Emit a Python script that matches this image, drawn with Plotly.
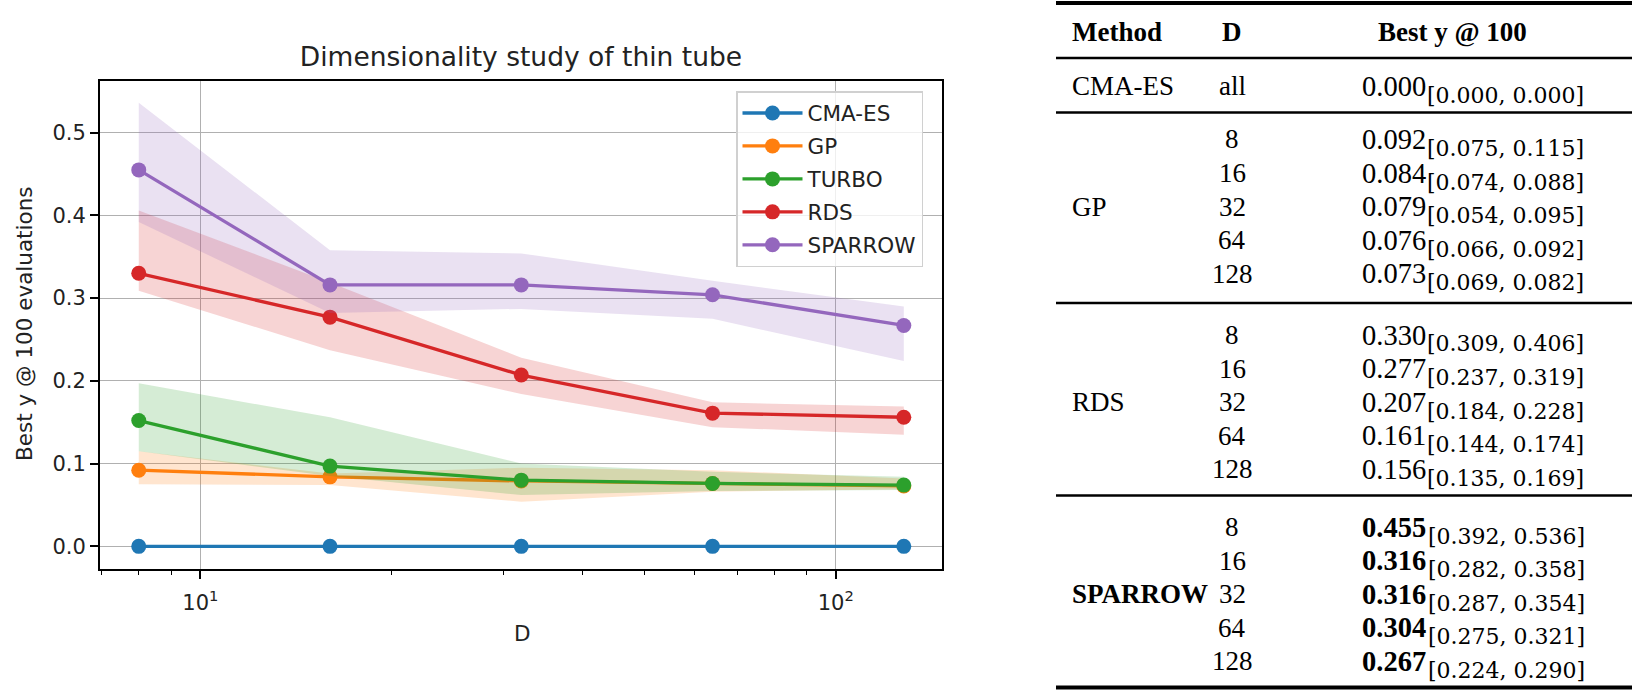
import plotly.graph_objects as go

W, H = 1632, 691

# ---------------- data ----------------
D = [8, 16, 32, 64, 128]
methods = ["CMA-ES", "GP", "TURBO", "RDS", "SPARROW"]
colors = ["#1f77b4", "#ff7f0e", "#2ca02c", "#d62728", "#9467bd"]
bands = ["rgba(31,119,180,0.2)", "rgba(255,127,14,0.2)", "rgba(44,160,44,0.2)",
         "rgba(214,39,40,0.2)", "rgba(148,103,189,0.2)"]

cma_med = [0.000, 0.000, 0.000, 0.000, 0.000]
cma_lo = [0.000, 0.000, 0.000, 0.000, 0.000]
cma_hi = [0.000, 0.000, 0.000, 0.000, 0.000]

gp_med = [0.092, 0.084, 0.079, 0.076, 0.073]
gp_lo = [0.075, 0.074, 0.054, 0.066, 0.069]
gp_hi = [0.115, 0.088, 0.095, 0.092, 0.082]

turbo_med = [0.152, 0.097, 0.080, 0.076, 0.074]
turbo_lo = [0.115, 0.085, 0.062, 0.067, 0.068]
turbo_hi = [0.197, 0.156, 0.100, 0.090, 0.084]

rds_med = [0.330, 0.277, 0.207, 0.161, 0.156]
rds_lo = [0.309, 0.237, 0.184, 0.144, 0.135]
rds_hi = [0.406, 0.319, 0.228, 0.174, 0.169]

sp_med = [0.455, 0.316, 0.316, 0.304, 0.267]
sp_lo = [0.392, 0.282, 0.287, 0.275, 0.224]
sp_hi = [0.536, 0.358, 0.354, 0.321, 0.290]

series_med = [cma_med, gp_med, turbo_med, rds_med, sp_med]
series_lo = [cma_lo, gp_lo, turbo_lo, rds_lo, sp_lo]
series_hi = [cma_hi, gp_hi, turbo_hi, rds_hi, sp_hi]

y_ticks = [0.0, 0.1, 0.2, 0.3, 0.4, 0.5]
x_major = [10, 100]
x_major_text = ["10<sup>1</sup>", "10<sup>2</sup>"]
x_minor = [7, 8, 9, 20, 30, 40, 50, 60, 70, 80, 90]

title = "Dimensionality study of thin tube"
x_label = "D"
y_label = "Best y @ 100 evaluations"

# table (methods shown in table)
table_header = ["Method", "D", "Best y @ 100"]
table_methods = ["GP", "RDS", "SPARROW"]
table_meds = [gp_med, rds_med, sp_med]
table_los = [gp_lo, rds_lo, sp_lo]
table_his = [gp_hi, rds_hi, sp_hi]
table_bold = [False, False, True]

# ---------------- figure ----------------
def px(x):
    return x / W

def py(y):
    return 1 - y / H

fig = go.Figure()
for i, m in enumerate(methods):
    fig.add_trace(go.Scatter(x=D, y=series_lo[i], mode="lines", line=dict(width=0),
                             showlegend=False, hoverinfo="skip", legendgroup=m))
    fig.add_trace(go.Scatter(x=D, y=series_hi[i], mode="lines", line=dict(width=0),
                             fill="tonexty", fillcolor=bands[i], showlegend=False,
                             hoverinfo="skip", legendgroup=m))
    fig.add_trace(go.Scatter(x=D, y=series_med[i], mode="lines+markers", name=m,
                             legendgroup=m,
                             line=dict(color=colors[i], width=3.3),
                             marker=dict(color=colors[i], size=15)))

tickfont = dict(family="DejaVu Sans", size=21, color="#222")

fig.update_layout(
    width=W, height=H,
    margin=dict(l=0, r=0, t=0, b=0),
    paper_bgcolor="white", plot_bgcolor="white",
    showlegend=True,
    legend=dict(x=px(736), y=py(91), xanchor="left", yanchor="top",
                traceorder="grouped", tracegroupgap=2, itemwidth=60,
                font=dict(family="DejaVu Sans", size=21.5, color="#222"),
                bgcolor="rgba(255,255,255,0.8)", bordercolor="#d0d0d0", borderwidth=1.5),
    title=dict(text=title, x=px(521), y=py(57), xanchor="center", yanchor="middle",
               xref="paper", yref="container",
               font=dict(family="DejaVu Sans", size=26.5, color="#222")),
    xaxis=dict(type="log", domain=[px(100), px(942.3)], range=[0.8421, 2.1678],
               tickvals=x_major, ticktext=x_major_text, ticks="outside", ticklen=8,
               tickwidth=1.5, tickcolor="black", tickfont=tickfont,
               ticklabelstandoff=6,
               showgrid=True, gridcolor="#b0b0b0", gridwidth=1.2,
               showline=True, linecolor="black", linewidth=2, mirror=True,
               zeroline=False,
               minor=dict(tickvals=x_minor, ticks="outside", ticklen=4.5, tickwidth=1.2,
                          tickcolor="black", showgrid=False)),
    yaxis=dict(domain=[py(568.5), py(80.7)], range=[-0.0268, 0.5628],
               tickvals=y_ticks, tickformat=".1f", ticks="outside", ticklen=8,
               tickwidth=1.5, tickcolor="black", tickfont=tickfont,
               showgrid=True, gridcolor="#b0b0b0", gridwidth=1.2,
               showline=True, linecolor="black", linewidth=2, mirror=True,
               zeroline=False),
)

ann = []
ann.append(dict(text=y_label, x=px(25), y=py(324), xref="paper", yref="paper",
                textangle=-90, showarrow=False, xanchor="center", yanchor="middle",
                font=dict(family="DejaVu Sans", size=21.5, color="#222")))
ann.append(dict(text=x_label, x=px(522), y=py(633), xref="paper", yref="paper",
                showarrow=False, xanchor="center", yanchor="middle",
                font=dict(family="DejaVu Sans", size=21.5, color="#222")))

# ---------------- table ----------------
TXT = "Liberation Serif"
SUBF = "DejaVu Serif"
txt_size = 27
main_size = 28.5
sub_size = 22
x_method = 1070
x_d = 1232
x_val = 1360
x_head_val = 1452
row_gap = 33.6

def text_ann(s, x, y, anchor="left", size=txt_size, family=TXT):
    ann.append(dict(text=s, x=px(x), y=py(y), xref="paper", yref="paper",
                    showarrow=False, xanchor=anchor, yanchor="middle",
                    font=dict(family=family, size=size, color="black")))

def value_ann(med, lo, hi, y, bold):
    main = f"{med:.3f}"
    if bold:
        main = f"<b>{main}</b>"
    text_ann(main, x_val, y, anchor="left", size=main_size, family=TXT)
    text_ann(f"[{lo:.3f}, {hi:.3f}]", x_val + (66 if bold else 65), y + 9,
             anchor="left", size=sub_size, family=SUBF)

# header
text_ann("<b>" + table_header[0] + "</b>", x_method, 32)
text_ann("<b>" + table_header[1] + "</b>", x_d, 32, anchor="center")
text_ann("<b>" + table_header[2] + "</b>", x_head_val, 32, anchor="center")

# CMA-ES row
text_ann("CMA-ES", x_method, 86)
text_ann("all", x_d, 86, anchor="center")
value_ann(cma_med[0], cma_lo[0], cma_hi[0], 86, False)

group_start = [139.5, 335, 527]
for g, name in enumerate(table_methods):
    y0 = group_start[g]
    label = f"<b>{name}</b>" if table_bold[g] else name
    text_ann(label, x_method, y0 + 2 * row_gap)
    for i, d in enumerate(D):
        y = y0 + i * row_gap
        text_ann(str(d), x_d, y, anchor="center")
        value_ann(table_meds[g][i], table_los[g][i], table_his[g][i], y, table_bold[g])

shapes = []
rules = [(3, 4), (58, 2.5), (112.4, 2.5), (303, 2.5), (495.4, 2.5), (687.5, 4)]
for y, w in rules:
    shapes.append(dict(type="line", xref="paper", yref="paper", x0=px(1056), x1=px(1632),
                       y0=py(y), y1=py(y), line=dict(color="black", width=w)))

fig.update_layout(annotations=ann, shapes=shapes)
fig.write_html("out.html")
